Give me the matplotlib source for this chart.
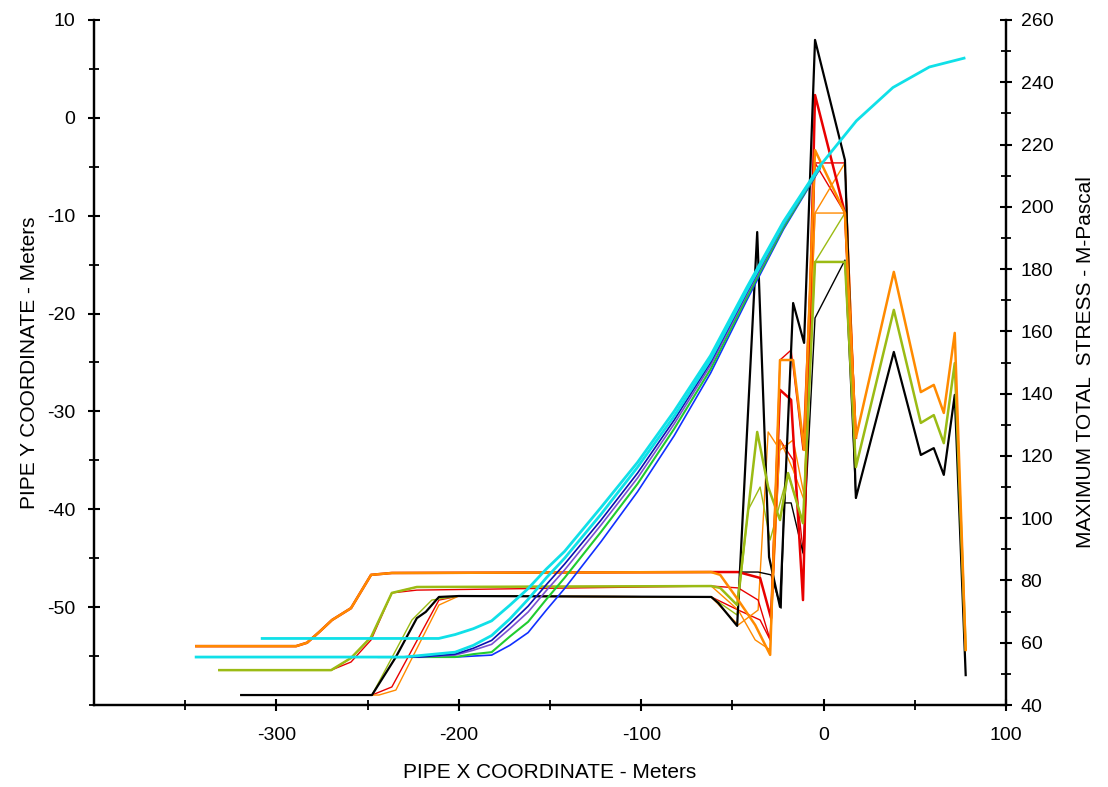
import matplotlib.pyplot as plt
from matplotlib.ticker import MultipleLocator

plt.rcParams["font.family"] = ["Liberation Sans", "DejaVu Sans"]
plt.rcParams["axes.unicode_minus"] = False

# ---- pipe profiles (left axis, metres) ----
pipe_x_cyan = [-307.8, -211, -202, -192, -182, -172, -162, -152, -142, -122, -102, -82, -62, -42, -22, -2,
               18, 38, 58, 77]
pipe_y_cyan = [-53.2, -53.2, -52.8, -52.2, -51.4, -49.8, -48.1, -46.1, -44.3, -39.8, -35.2, -30.0, -24.3,
               -17.3, -10.6, -4.9, -0.3, 3.1, 5.2, 6.1]

pipe_x_cyan2 = [-344, -230, -202, -192, -182, -172, -162, -152, -142, -122, -102, -82, -62, -42, -22, -2]
pipe_y_cyan2 = [-55.1, -55.1, -54.6, -53.9, -52.9, -51.2, -49.2, -47.0, -45.0, -40.5, -35.7, -30.5, -24.7,
                -17.6, -10.8, -5.0]

pipe_x_bundle = [-244, -222, -202, -192, -182, -172, -162, -152, -142, -122, -102, -82, -62, -42, -22, -2]
pipe_y_navy = [-55.1, -55.1, -54.8, -54.2, -53.4, -51.7, -49.9, -47.7, -45.6, -41.1, -36.3, -30.9, -25.0,
               -17.8, -10.9, -5.0]
pipe_y_purple = [-55.1, -55.1, -54.9, -54.4, -53.8, -52.2, -50.5, -48.3, -46.2, -41.6, -36.8, -31.3, -25.3,
                 -18.0, -11.0, -5.1]
pipe_y_green = [-55.1, -55.1, -55.1, -54.8, -54.6, -53.0, -51.5, -49.2, -47.0, -42.3, -37.4, -31.8, -25.7,
                -18.3, -11.2, -5.1]
pipe_y_blue = [-55.1, -55.1, -55.1, -55.0, -54.9, -53.9, -52.6, -50.3, -48.1, -43.3, -38.2, -32.5, -26.1,
               -18.6, -11.4, -5.2]

# ---- maximum total stress (right axis, MPa) ----
blk_x = [-319.3, -247.6, -234.5, -223.0, -218.1, -210.9, -200.0, -61.6, -57.8, -47.4, -36.4, -29.9,
         -23.9, -16.7, -10.7, -4.7, 11.7, 17.7, 38.5, 53.3, 60.4, 65.9, 71.9, 77.9]
blk_s = [43.2, 43.2, 55.4, 67.9, 69.9, 74.7, 75.0, 74.7, 72.8, 65.4, 191.9, 87.5,
         71.5, 169.1, 156.3, 253.6, 215.0, 106.5, 153.4, 120.3, 122.5, 113.9, 139.6, 49.6]

olv_x = [-331.3, -270.0, -259.1, -248.1, -236.7, -223.0, -61.6, -56.7, -47.4, -36.4, -30.4, -23.9,
         -19.5, -11.3, -4.7, 11.7, 17.7, 38.5, 53.3, 60.4, 65.9, 71.9, 77.9]
olv_s = [51.2, 51.2, 55.1, 61.8, 76.0, 77.9, 78.2, 77.6, 72.1, 127.7, 110.0, 99.4,
         114.5, 98.4, 182.3, 182.3, 116.4, 166.9, 130.6, 133.1, 124.1, 149.8, 57.7]

org_x = [-343.9, -289.2, -283.2, -276.6, -269.5, -259.1, -248.1, -236.7, -61.6, -56.7, -46.8, -37.5,
         -29.3, -23.9, -16.7, -10.7, -4.7, 11.7, 17.7, 38.5, 53.3, 60.4, 65.9, 71.9, 77.9]
org_s = [58.9, 58.9, 60.0, 63.4, 67.3, 71.1, 81.8, 82.4, 82.7, 81.8, 73.7, 65.7,
         56.1, 150.8, 150.8, 121.9, 218.2, 198.0, 125.8, 179.1, 140.5, 142.8, 133.8, 159.5, 57.7]

red_x = [-343.9, -289.2, -283.2, -276.6, -269.5, -259.1, -248.1, -236.7, -61.6, -46.8, -34.8, -28.8,
         -23.9, -17.8, -11.3, -4.7, 11.7, 17.7]
red_s = [58.9, 58.9, 60.0, 63.4, 67.3, 71.1, 81.8, 82.4, 82.7, 82.7, 80.8, 67.9,
         141.2, 138.0, 73.7, 235.9, 198.0, 125.8]

blk2_x = [-343.9, -289.2, -283.2, -276.6, -269.5, -259.1, -248.1, -236.7, -61.6, -35.9, -28.8, -23.3,
          -21.7, -17.8, -11.3, -4.7, 11.7, 17.7]
blk2_s = [58.9, 58.9, 60.0, 63.4, 67.3, 71.1, 81.8, 82.4, 82.7, 82.7, 81.8, 71.1,
          104.9, 104.9, 88.8, 164.3, 182.9, 106.5]

red2_x = [-331.3, -270.0, -259.1, -248.1, -236.7, -223.0, -61.6, -46.8, -35.9, -29.3, -23.9, -17.8,
          -11.3, -4.7, 11.7, 17.7]
red2_s = [51.2, 51.2, 53.8, 60.9, 76.0, 76.9, 78.2, 77.6, 73.7, 60.9, 150.8, 154.0,
          121.9, 214.1, 214.1, 125.8]

org2_x = [-331.3, -270.0, -259.1, -248.1, -236.7, -223.0, -61.6, -46.8, -37.5, -29.3, -23.9, -16.7,
          -10.7, -4.7, 11.7, 17.7]
org2_s = [51.2, 51.2, 55.1, 61.8, 76.0, 77.9, 78.2, 70.5, 60.9, 57.7, 125.1, 115.5,
          105.8, 198.0, 214.1, 125.8]

red3_x = [-319.3, -247.6, -236.7, -210.9, -200.0, -61.6, -46.8, -34.8, -29.3, -23.9, -16.7, -10.7,
          -4.7, 11.7, 17.7]
red3_s = [43.2, 43.2, 45.8, 73.7, 75.0, 74.7, 70.5, 67.3, 60.9, 125.1, 118.7, 86.6,
          214.1, 198.0, 116.4]

org3_x = [-319.3, -247.6, -243.8, -234.5, -210.9, -200.0, -61.6, -46.8, -35.9, -30.4, -23.9, -16.7,
          -10.7, -4.7, 11.7, 17.7]
org3_s = [43.2, 43.2, 43.2, 44.8, 72.1, 75.0, 74.7, 65.7, 70.5, 127.7, 121.9, 125.1,
          107.4, 198.0, 198.0, 125.8]

olv2_x = [-319.3, -247.6, -225.7, -214.8, -200.0, -61.6, -47.4, -41.4, -34.8, -29.3, -19.5, -11.3,
          -4.7, 11.7, 17.7]
olv2_s = [43.2, 43.2, 67.3, 73.7, 75.0, 74.7, 68.9, 102.6, 110.0, 93.0, 114.5, 98.4,
          182.3, 198.0, 116.4]

BLACK = "#000000"
RED = "#e80000"
ORANGE = "#ff8a00"
OLIVE = "#9bbb14"


def main():
    fig = plt.figure(figsize=(11.08, 7.87), dpi=100)
    ax = fig.add_axes([94 / 1108, 82 / 787, 912 / 1108, 685 / 787])  # stress
    ax2 = ax.twinx()  # pipe profile

    # stress lines, thin ones first
    ax.plot(red3_x, red3_s, color=RED, lw=1.0)
    ax.plot(org3_x, org3_s, color=ORANGE, lw=1.0)
    ax.plot(olv2_x, olv2_s, color=OLIVE, lw=1.0)
    ax.plot(red2_x, red2_s, color=RED, lw=1.0)
    ax.plot(org2_x, org2_s, color=ORANGE, lw=1.0)
    ax.plot(blk2_x, blk2_s, color=BLACK, lw=1.0)
    ax.plot(red_x, red_s, color=RED, lw=1.8)
    ax.plot(blk_x, blk_s, color=BLACK, lw=1.6)
    ax.plot(olv_x, olv_s, color=OLIVE, lw=1.8)
    ax.plot(org_x, org_s, color=ORANGE, lw=1.8)

    # pipe profiles
    ax2.plot(pipe_x_bundle, pipe_y_blue, color="#1030ff", lw=1.2)
    ax2.plot(pipe_x_bundle, pipe_y_green, color="#20cc30", lw=1.5)
    ax2.plot(pipe_x_bundle, pipe_y_purple, color="#7a4fd0", lw=1.2)
    ax2.plot(pipe_x_bundle, pipe_y_navy, color="#0a10b0", lw=1.2)
    ax2.plot(pipe_x_cyan2, pipe_y_cyan2, color="#10e0e8", lw=2.0)
    ax2.plot(pipe_x_cyan, pipe_y_cyan, color="#10e0e8", lw=2.0)

    ax.set_xlim(-400, 100)
    ax.set_ylim(40, 260)
    ax2.set_ylim(-60, 10)

    # stress axis on the right, pipe axis on the left
    ax.yaxis.tick_right()
    ax.yaxis.set_label_position("right")
    ax2.yaxis.tick_left()
    ax2.yaxis.set_label_position("left")

    ax.set_xticks([-300, -200, -100, 0, 100])
    ax.set_xticks([-350, -250, -150, -50, 50], minor=True)
    ax.yaxis.set_major_locator(MultipleLocator(20))
    ax.yaxis.set_minor_locator(MultipleLocator(10))
    ax2.set_yticks([-50, -40, -30, -20, -10, 0, 10])
    ax2.set_yticks([-60, -55, -45, -35, -25, -15, -5, 5], minor=True)

    for a in (ax, ax2):
        a.spines["top"].set_visible(False)
        for s in ("left", "right", "bottom"):
            a.spines[s].set_linewidth(1.6)
        a.tick_params(which="major", direction="inout", length=9, width=1.5, labelsize=14)
        a.tick_params(which="minor", direction="inout", length=7, width=1.3)
    ax.tick_params(axis="x", pad=11)
    ax.tick_params(axis="y", pad=6)
    ax2.tick_params(axis="y", pad=9)

    ax.set_xlabel("PIPE X COORDINATE - Meters", fontsize=15, labelpad=14)
    ax.set_ylabel("MAXIMUM TOTAL  STRESS - M-Pascal", fontsize=15, labelpad=16)
    ax2.set_ylabel("PIPE Y COORDINATE - Meters", fontsize=15, labelpad=6)

    fig.savefig("out.png", dpi=100)


if __name__ == "__main__":
    main()
